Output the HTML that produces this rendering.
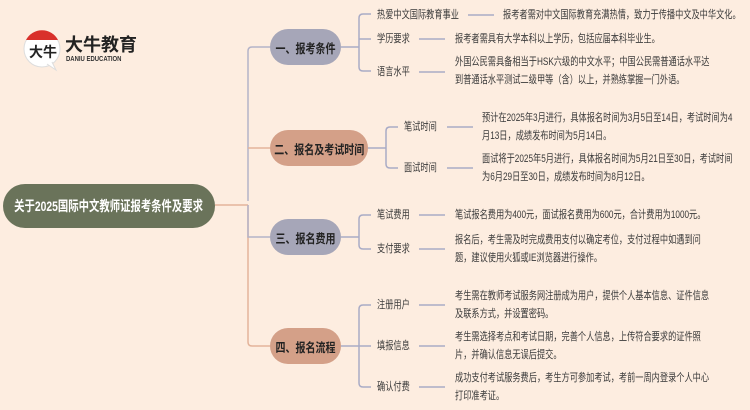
<!DOCTYPE html>
<html><head><meta charset="utf-8"><style>
body{margin:0}
#c{position:relative;width:750px;height:410px;background:#fdede0;overflow:hidden;font-family:"Liberation Sans","Noto Sans CJK SC",sans-serif}
.t{position:absolute;font-size:11px;color:#3a3a3a;white-space:nowrap;line-height:18px;transform:scaleX(0.745);transform-origin:0 0}
.n{position:absolute;height:36px;border-radius:18px;font-weight:bold;font-size:12.5px;color:#222;display:flex;align-items:center;justify-content:center;white-space:nowrap}
.n span{display:inline-block;transform:scaleX(0.8)}
</style></head><body><div id="c">
<svg width="750" height="410" style="position:absolute;left:0;top:0" fill="none" stroke-width="1.5">
<path d="M215 205 H248" stroke="#e3b39a"/>
<path d="M270 47 H252 Q248 47 248 51 V201" stroke="#b4b3c8"/>
<path d="M270 148 H248" stroke="#e3b39a"/>
<path d="M248 205 V342 Q248 346 252 346 H270" stroke="#e3b39a"/>
<path d="M248 205 V237 H270" stroke="#b4b3c8"/>
<g stroke="#a9abc6">
<path d="M341 47 H359 M371 14 H363 Q359 14 359 18 V67 Q359 71 363 71 H371 M359 39 H371"/>
<path d="M468 15 H494 M419 39 H445 M419 72 H445"/>
<path d="M368 148 H386 M398 127 H390 Q386 127 386 131 V164 Q386 168 390 168 H398"/>
<path d="M447 127 H473 M447 168 H473"/>
<path d="M341 237 H359 M371 215 H363 Q359 215 359 219 V245 Q359 249 363 249 H371"/>
<path d="M419 215 H445 M419 249 H445"/>
<path d="M341 346 H371 M371 305 H363 Q359 305 359 309 V383 Q359 387 363 387 H371"/>
<path d="M419 305 H445 M419 346 H445 M419 387 H445"/>
</g>
<circle cx="42" cy="49" r="18" fill="#fff" stroke="#ddd" stroke-width="1"/>
<path d="M26 40 A18 18 0 0 1 58 40 Z" fill="#d9302b" stroke="none"/>
<path d="M47 64 L56 70 L52 62" fill="#fff" stroke="#ddd" stroke-width="1"/>
</svg>
<div style="position:absolute;left:29px;top:42px;font-size:14px;font-weight:bold;color:#222">大牛</div>
<div style="position:absolute;left:65px;top:35px;font-size:18px;font-weight:bold;color:#222;line-height:20px">大牛教育</div>
<div style="position:absolute;left:66px;top:56px;font-size:7px;font-weight:bold;color:#333;transform:scaleX(0.85);transform-origin:0 0">DANIU EDUCATION</div>
<div class="n" style="left:3px;top:184px;width:212px;height:44px;border-radius:22px;background:#6a735a;color:#fff;font-size:14px"><span style="transform:scaleX(0.74)">关于2025国际中文教师证报考条件及要求</span></div>
<div class="n" style="left:270px;top:29px;width:71px;background:#a6a6b8"><span>一、报考条件</span></div>
<div class="n" style="left:270px;top:130px;width:98px;background:#d4a088"><span>二、报名及考试时间</span></div>
<div class="n" style="left:270px;top:219px;width:71px;background:#a6a6b8"><span>三、报名费用</span></div>
<div class="n" style="left:270px;top:328px;width:71px;background:#d4a088"><span>四、报名流程</span></div>
<div class="t" style="left:377px;top:6px">热爱中文国际教育事业</div>
<div class="t" style="left:503px;top:6px">报考者需对中文国际教育充满热情，致力于传播中文及中华文化。</div>
<div class="t" style="left:377px;top:30px">学历要求</div>
<div class="t" style="left:455px;top:30px">报考者需具有大学本科以上学历，包括应届本科毕业生。</div>
<div class="t" style="left:377px;top:63px">语言水平</div>
<div class="t" style="left:455px;top:53px">外国公民需具备相当于HSK六级的中文水平；中国公民需普通话水平达<br>到普通话水平测试二级甲等（含）以上，并熟练掌握一门外语。</div>
<div class="t" style="left:404px;top:118px">笔试时间</div>
<div class="t" style="left:482px;top:109px">预计在2025年3月进行，具体报名时间为3月5日至14日，考试时间为4<br>月13日，成绩发布时间为5月14日。</div>
<div class="t" style="left:404px;top:159px">面试时间</div>
<div class="t" style="left:482px;top:150px">面试将于2025年5月进行，具体报名时间为5月21日至30日，考试时间<br>为6月29日至30日，成绩发布时间为8月12日。</div>
<div class="t" style="left:377px;top:206px">笔试费用</div>
<div class="t" style="left:455px;top:206px">笔试报名费用为400元，面试报名费用为600元，合计费用为1000元。</div>
<div class="t" style="left:377px;top:240px">支付要求</div>
<div class="t" style="left:455px;top:231px">报名后，考生需及时完成费用支付以确定考位，支付过程中如遇到问<br>题，建议使用火狐或IE浏览器进行操作。</div>
<div class="t" style="left:377px;top:296px">注册用户</div>
<div class="t" style="left:455px;top:287px">考生需在教师考试服务网注册成为用户，提供个人基本信息、证件信息<br>及联系方式，并设置密码。</div>
<div class="t" style="left:377px;top:337px">填报信息</div>
<div class="t" style="left:455px;top:328px">考生需选择考点和考试日期，完善个人信息，上传符合要求的证件照<br>片，并确认信息无误后提交。</div>
<div class="t" style="left:377px;top:378px">确认付费</div>
<div class="t" style="left:455px;top:369px">成功支付考试服务费后，考生方可参加考试，考前一周内登录个人中心<br>打印准考证。</div>
</div></body></html>
